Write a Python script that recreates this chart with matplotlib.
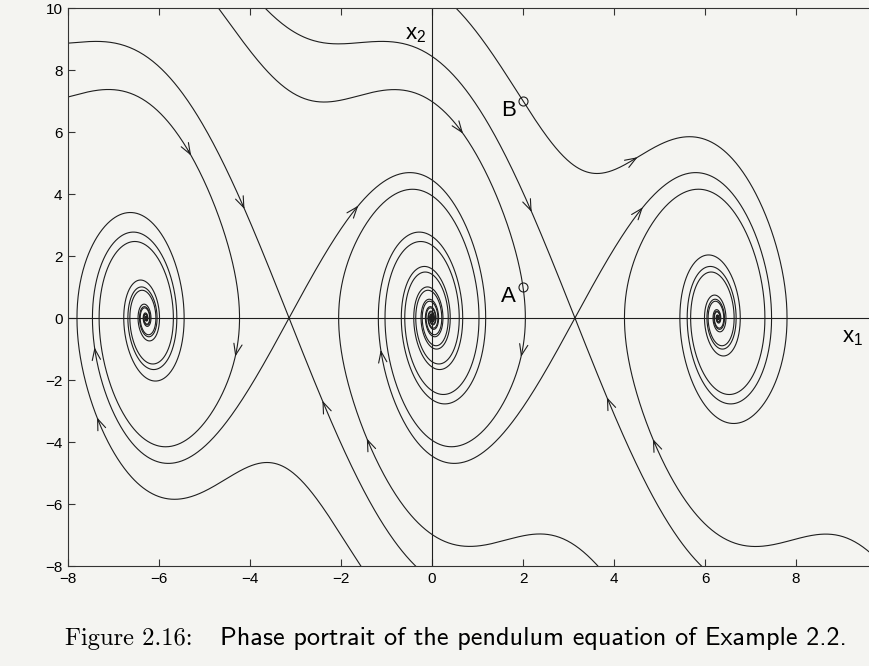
import numpy as np
import matplotlib.pyplot as plt

plt.rcParams["font.family"] = "Liberation Sans"
plt.rcParams["mathtext.default"] = "regular"

# pendulum: x1' = x2, x2' = -G sin(x1) - K x2
G = 10.0
K = 1.0

seeds = [(-8.0, 7.13), (2.0, 7.0), (2.0, 1.0)]
saddles = [-np.pi, np.pi]

marked = {"A": (2.0, 1.0), "B": (2.0, 7.0)}

# places along the curves that carry a direction arrow
arrow_at = [(-5.38, 5.19), (-4.15, 3.48), (-1.65, 3.65), (0.68, 5.97), (2.2, 3.42),
            (2.04, -1.26), (4.5, 5.2), (4.6, 3.58), (-7.45, -0.94), (-7.36, -3.19),
            (-4.26, -1.26), (-2.4, -2.65), (-1.36, -3.87), (-1.08, -1.03),
            (3.85, -2.55), (5.5, -3.7)]

xticks = [-8, -6, -4, -2, 0, 2, 4, 6, 8, 10]
yticks = [-8, -6, -4, -2, 0, 2, 4, 6, 8, 10]

ink = "#1e1e1e"


def f(p):
    return np.array([p[1], -G * np.sin(p[0]) - K * p[1]])


def integrate(p0, direction=1.0, t_end=16.0, dt=0.004):
    pts = [np.array(p0, float)]
    p = pts[0]
    h = dt * direction
    for _ in range(int(t_end / dt)):
        k1 = f(p)
        k2 = f(p + 0.5 * h * k1)
        k3 = f(p + 0.5 * h * k2)
        k4 = f(p + h * k3)
        p = p + h / 6 * (k1 + 2 * k2 + 2 * k3 + k4)
        pts.append(p)
        if abs(p[0]) > 10.6 or abs(p[1]) > 10.6:
            break
    return np.array(pts)


curves = []
for s in seeds:
    for m in (1, -1):
        p0 = (m * s[0], m * s[1])
        back = integrate(p0, -1.0)
        fwd = integrate(p0)
        curves.append(np.vstack([back[::-1], fwd[1:]]))

# separatrices through the saddles
lam_u = (-K + np.sqrt(K * K + 4 * G)) / 2
lam_s = (-K - np.sqrt(K * K + 4 * G)) / 2
eps = 1e-5
for xs in saddles:
    v = np.array([1.0, lam_u]) / np.hypot(1, lam_u)
    w = np.array([1.0, lam_s]) / np.hypot(1, lam_s)
    for sgn in (1, -1):
        curves.append(integrate((xs + sgn * eps * v[0], sgn * eps * v[1])))
        back = integrate((xs + sgn * eps * w[0], sgn * eps * w[1]), -1.0)
        curves.append(back[::-1])

fig = plt.figure(figsize=(8.7, 6.66), dpi=100)
fig.patch.set_facecolor("#f4f4f1")
ax = fig.add_axes([68 / 870, 1 - 566 / 666, 819 / 870, 558 / 666])
ax.set_facecolor("#f4f4f1")

for c in curves:
    ax.plot(c[:, 0], c[:, 1], color=ink, lw=0.8)

for q in arrow_at:
    # nearest curve point, arrow points along the motion
    best = None
    for c in curves:
        d = np.hypot(c[:, 0] - q[0], c[:, 1] - q[1])
        i = int(np.argmin(d))
        if i > 3 and (best is None or d[i] < best[0]):
            best = (d[i], c, i)
    _, c, i = best
    ax.annotate("", xy=c[i], xytext=c[i - 3],
                arrowprops=dict(arrowstyle="->,head_length=0.8,head_width=0.3",
                                lw=0.8, color=ink, shrinkA=0, shrinkB=0))

ax.axhline(0, color=ink, lw=0.8)
ax.axvline(0, color=ink, lw=0.8)

for name, (px, py) in marked.items():
    ax.plot(px, py, "o", mfc="none", mec=ink, ms=6.5, mew=0.8)
    ax.text(px - 0.15, py - 0.47, name, ha="right", va="baseline", fontsize=16)

ax.text(-0.6, 9.0, "x$_2$", fontsize=16, va="baseline")
ax.text(9.0, -0.8, "x$_1$", fontsize=16, va="baseline")

ax.set_xlim(-8, 10)
ax.set_ylim(-8, 10)
ax.set_xticks(xticks)
ax.set_yticks(yticks)
ax.tick_params(direction="in", length=5, width=0.8, top=True, right=True,
               labelsize=11, pad=4, color="#333333")
for sp in ax.spines.values():
    sp.set_linewidth(0.8)
    sp.set_color("#333333")

# caption, sized to its printed width
cap1 = fig.text(65 / 870, 1 - 645 / 666, "Figure 2.16:", family="cmr10",
                fontsize=16, va="baseline")
cap2 = fig.text(220 / 870, 1 - 645 / 666,
                "Phase portrait of the pendulum equation of Example 2.2.",
                family="cmss10", fontsize=16, va="baseline")
fig.canvas.draw()
for t, width in ((cap1, 128), (cap2, 625)):
    t.set_fontsize(16 * width / t.get_window_extent().width)

fig.savefig("out.png", dpi=100, facecolor=fig.get_facecolor())
